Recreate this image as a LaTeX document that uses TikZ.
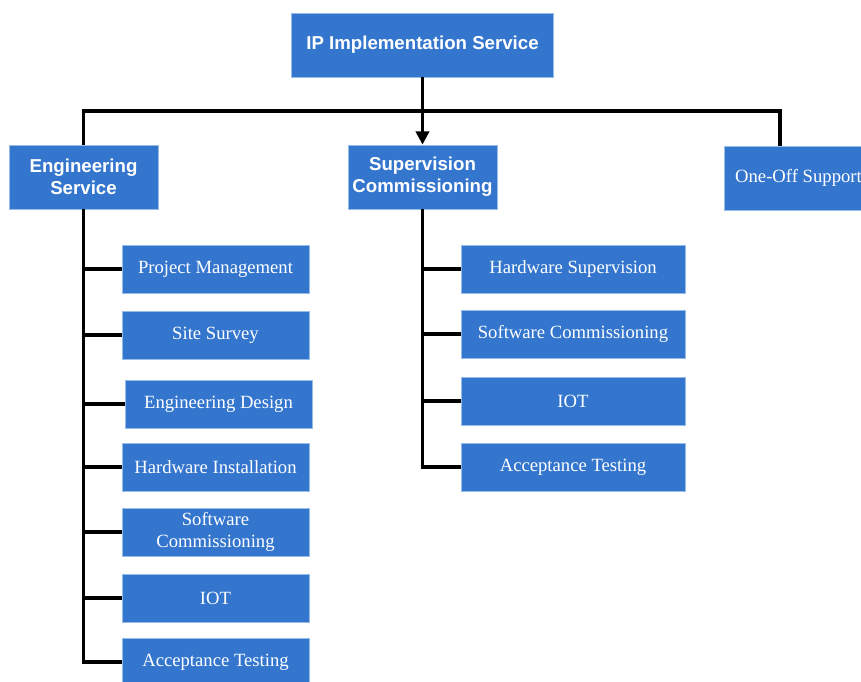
\documentclass[tikz,border=0pt]{standalone}
\usepackage{fontspec}
\setmainfont{Liberation Serif}
\setsansfont{Liberation Sans}
\usetikzlibrary{arrows.meta}
\definecolor{boxblue}{RGB}{52,118,206}
\definecolor{edgeblue}{RGB}{150,188,232}
\tikzset{
  box/.style={draw=edgeblue, line width=0.6pt, fill=boxblue, text=white, align=center, inner sep=0pt},
  head/.style={box, font=\sffamily\bfseries\fontsize{14}{16.5}\selectfont},
  item/.style={box, font=\fontsize{14}{17}\selectfont, minimum height=36pt},
  wire/.style={line width=2.4pt, black}
}
\begin{document}
\begin{tikzpicture}[x=0.75pt, y=-0.75pt]
        \useasboundingbox (0,0) rectangle (861,682);
        \begin{scope}
        \clip (0,0) rectangle (861,682);
        \node[head, minimum width=196.5pt, minimum height=48pt] (ip) at (422.5, 45) {IP Implementation Service};
        \node[head, minimum width=111.75pt, minimum height=48pt] (es) at (83.5, 177) {Engineering\\Service};
        \node[head, minimum width=111.75pt, minimum height=48pt] (sc) at (422.5, 177) {Supervision\\Commissioning};
        \node[box, font=\fontsize{14}{17}\selectfont, minimum width=111.75pt, minimum height=48pt] (oo) at (798.5, 178) {One-Off Support};
        \node[item, minimum width=140.25pt] (pm) at (215.5, 269) {Project Management};
        \node[item, minimum width=140.25pt] (ss) at (215.5, 335) {Site Survey};
        \node[item, minimum width=140.25pt] (ed) at (218.5, 404) {Engineering Design};
        \node[item, minimum width=140.25pt] (hi) at (215.5, 467) {Hardware Installation};
        \node[item, minimum width=140.25pt] (swc) at (215.5, 532) {Software\\Commissioning};
        \node[item, minimum width=140.25pt] (iot) at (215.5, 598) {IOT};
        \node[item, minimum width=140.25pt] (at) at (215.5, 662) {Acceptance Testing};
        \node[item, minimum width=168pt] (hs) at (573, 269) {Hardware Supervision};
        \node[item, minimum width=168pt] (scm) at (573, 334) {Software Commissioning};
        \node[item, minimum width=168pt] (iot2) at (573, 401) {IOT};
        \node[item, minimum width=168pt] (at2) at (573, 467) {Acceptance Testing};
        \coordinate (bl) at (83.5, 111);
        \coordinate (br) at (780, 111);
        \coordinate (oc) at (780, 146);
        \draw[wire] (es.north) -- (bl) -- (br) -- (oc);
        \draw[wire, -{Triangle[width=10pt, length=10pt]}] (ip.south) -- (sc.north);
        \draw[wire] (es.south) |- (pm.west);
        \draw[wire] (es.south) |- (ss.west);
        \draw[wire] (es.south) |- (ed.west);
        \draw[wire] (es.south) |- (hi.west);
        \draw[wire] (es.south) |- (swc.west);
        \draw[wire] (es.south) |- (iot.west);
        \draw[wire] (es.south) |- (at.west);
        \draw[wire] (sc.south) |- (hs.west);
        \draw[wire] (sc.south) |- (scm.west);
        \draw[wire] (sc.south) |- (iot2.west);
        \draw[wire] (sc.south) |- (at2.west);
        \end{scope}
        \end{tikzpicture}
\end{document}
